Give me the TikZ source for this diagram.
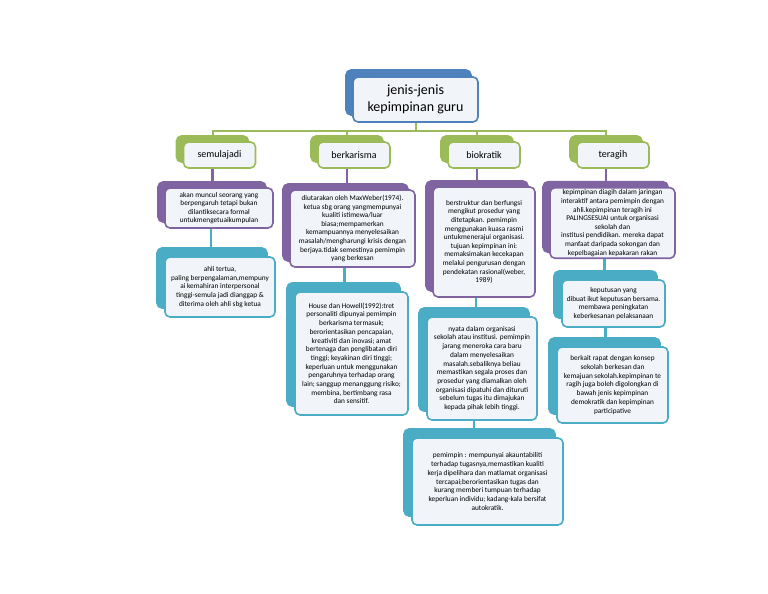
\documentclass[tikz,border=0pt]{standalone}
\usepackage{fontspec}
\setmainfont{Carlito}
\usepackage{tikz}
\usetikzlibrary{shadows}
\definecolor{titleblue}{HTML}{4F81BD}
\definecolor{catgreen}{HTML}{9BBB59}
\definecolor{descpurple}{HTML}{8064A2}
\definecolor{noteteal}{HTML}{4BACC6}
\definecolor{boxfill}{HTML}{F1F4F8}

\begin{document}
\begin{tikzpicture}[x=1pt, y=-1pt,
  box/.style={draw, fill=boxfill, rounded corners=5pt, line width=1.6pt, align=center, inner sep=2pt},
  boxsize/.style 2 args={minimum width=#1pt, minimum height=#2pt},
  titlebox/.style={box, draw=titleblue, boxsize={125}{45}, font=\fontsize{14}{16.5}\selectfont,
    copy shadow={shadow xshift=-7pt, shadow yshift=7pt, fill=titleblue, draw=titleblue}},
  catbox/.style={box, draw=catgreen, boxsize={72}{26}, font=\fontsize{10}{12}\selectfont,
    copy shadow={shadow xshift=-7pt, shadow yshift=6pt, fill=catgreen, draw=catgreen}},
  descbox/.style={box, draw=descpurple, font=\fontsize{7.3}{8.6}\selectfont,
    copy shadow={shadow xshift=-7pt, shadow yshift=6pt, fill=descpurple, draw=descpurple}},
  notebox/.style={box, draw=noteteal, font=\fontsize{7.3}{8.7}\selectfont,
    copy shadow={shadow xshift=-8pt, shadow yshift=9pt, fill=noteteal, draw=noteteal}},
  gline/.style={catgreen, line width=2pt},
  pline/.style={descpurple, line width=2.6pt},
  tline/.style={noteteal, line width=2.6pt}]
\useasboundingbox[fill=white] (0,0) rectangle (768,594);

%%%%% Title %%%%%
\node[titlebox] (title) at (415.5,99.5) {jenis-jenis\\kepimpinan guru};

%%%%% Jenis %%%%%
\foreach \n/\x/\t in {sem/219.5/semulajadi, kar/354/berkarisma, bio/484/biokratik, ter/613/teragih}{
\node[catbox] (\n) at (\x,155) {\t};
}

%%%%% Huraian %%%%%
\node[descbox, boxsize={108}{40}] (semdesc) at (219,208) {akan muncul seorang yang\\ berpengaruh tetapi bukan\\ dilantiksecara formal\\ untukmengetuaikumpulan};
\node[descbox, boxsize={125}{77}] (kardesc) at (352.5,228.5) {diutarakan oleh MaxWeber(1974).\\ ketua sbg orang yangmempunyai\\ kualiti istimewa/luar\\ biasa;mempamerkan\\ kemampuannya menyelesaikan\\ masalah/mengharungi krisis dengan\\ berjaya.tidak semestinya pemimpin\\ yang berkesan};
\node[descbox, boxsize={102}{110}] (biodesc) at (484,242) {berstruktur dan berfungsi\\ mengikut prosedur yang\\ ditetapkan. pemimpin\\ menggunakan kuasa rasmi\\ untukmenerajui organisasi.\\ tujuan kepimpinan ini:\\ memaksimakan kecekapan\\ melalui pengurusan dengan\\ pendekatan rasional(weber,\\ 1989)};
\node[descbox, boxsize={125}{70}] (terdesc) at (612.5,223) {kepimpinan diagih dalam jaringan\\ interaktif antara pemimpin dengan\\ ahli.kepimpinan teragih ini\\ PALINGSESUAI untuk organisasi\\ sekolah dan\\ institusi pendidikan. mereka dapat\\ manfaat daripada sokongan dan\\ kepelbagaian kepakaran rakan};

%%%%% Ciri %%%%%
\node[notebox, boxsize={110}{60}] (semold) at (220,287) {ahli tertua,\\ paling berpengalaman,mempuny\\ ai kemahiran interpersonal\\ tinggi-semula jadi dianggap \&\\ diterima oleh ahli sbg ketua};
\node[notebox, boxsize={113}{123}] (karhouse) at (351.5,353.5) {House dan Howell(1992):tret\\ personaliti dipunyai pemimpin\\ berkarisma termasuk;\\ berorientasikan pencapaian,\\ kreativiti dan inovasi; amat\\ bertenaga dan penglibatan diri\\ tinggi; keyakinan diri tinggi;\\ keperluan untuk menggunakan\\ pengaruhnya terhadap orang\\ lain; sanggup menanggung risiko;\\ membina, bertimbang rasa\\ dan sensitif.};
\node[notebox, boxsize={110}{103}] (bionyata) at (482,368.5) {nyata dalam organisasi\\ sekolah atau institusi. pemimpin\\ jarang meneroka cara baru\\ dalam menyelesaikan\\ masalah.sebaliknya beliau\\ memastikan segala proses dan\\ prosedur yang diamalkan oleh\\ organisasi dipatuhi dan dituruti\\ sebelum tugas itu dimajukan\\ kepada pihak lebih tinggi.};
\node[notebox, boxsize={151}{87}] (bioleader) at (487.5,481.5) {pemimpin : mempunyai akauntabiliti\\ terhadap tugasnya,memastikan kualiti\\ kerja dipelihara dan matlamat organisasi\\ tercapai;berorientasikan tugas dan\\ kurang memberi tumpuan terhadap\\ keperluan individu; kadang-kala bersifat\\ autokratik.};
\node[notebox, boxsize={103}{47}] (terkep) at (613.5,303.5) {keputusan yang\\ dibuat ikut keputusan bersama.\\ membawa peningkatan\\ keberkesanan pelaksanaan};
\node[notebox, boxsize={111}{76}] (terkait) at (612.5,385) {berkait rapat dengan konsep\\ sekolah berkesan dan\\ kemajuan sekolah.kepimpinan te\\ ragih juga boleh digolongkan di\\ bawah jenis kepimpinan\\ demokratik dan kepimpinan\\ participative};

%%%%% Garis %%%%%
\draw[gline] (title.south) -- ++(0,8) coordinate (bus);
\foreach \n in {sem,kar,bio,ter}{
\draw[gline] (bus) -| ([xshift=-7pt]\n.north);
}
\foreach \a/\b in {sem/semdesc, kar/kardesc, bio/biodesc, ter/terdesc}{
\draw[pline] ([xshift=-7pt]\a.south) -- ([xshift=-7pt]\a.south |- \b.north);
}
\foreach \a/\b in {semdesc/semold, kardesc/karhouse, biodesc/bionyata, bionyata/bioleader, terdesc/terkep, terkep/terkait}{
\draw[tline] ([xshift=-8pt]\a.south) -- ([xshift=-8pt]\a.south |- \b.north);
}

\end{tikzpicture}
\end{document}
